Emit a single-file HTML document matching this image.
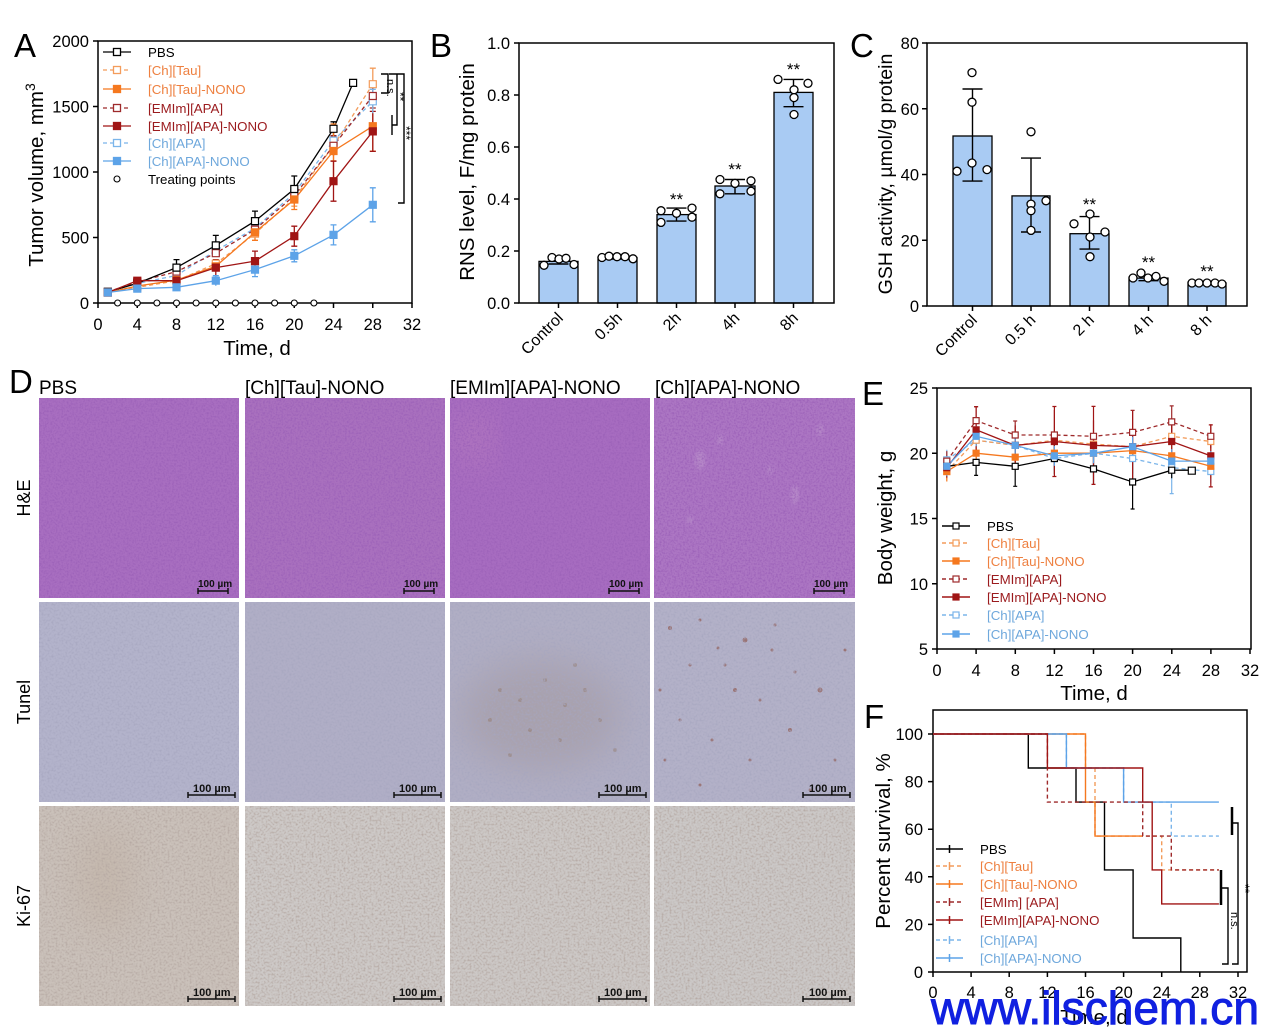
<!DOCTYPE html>
<html><head><meta charset="utf-8"><style>
html,body{margin:0;padding:0;background:#fff;}
svg{display:block;font-family:"Liberation Sans",Arial,sans-serif;}
</style></head><body>
<svg width="1270" height="1033" viewBox="0 0 1270 1033" xmlns="http://www.w3.org/2000/svg">
<defs>
<filter id="nzH" x="0" y="0" width="1" height="1"><feTurbulence type="fractalNoise" baseFrequency="0.55" numOctaves="2" seed="3"/><feColorMatrix type="matrix" values="0 0 0 0 0.33  0 0 0 0 0.12  0 0 0 0 0.48  2.4 0 0 0 -0.98"/></filter>
<filter id="nzT" x="0" y="0" width="1" height="1"><feTurbulence type="fractalNoise" baseFrequency="0.5" numOctaves="2" seed="7"/><feColorMatrix type="matrix" values="0 0 0 0 0.38  0 0 0 0 0.38  0 0 0 0 0.52  2.2 0 0 0 -0.95"/></filter>
<filter id="nzK" x="0" y="0" width="1" height="1"><feTurbulence type="fractalNoise" baseFrequency="0.5" numOctaves="2" seed="11"/><feColorMatrix type="matrix" values="0 0 0 0 0.45  0 0 0 0 0.38  0 0 0 0 0.35  2.2 0 0 0 -0.95"/></filter>
<filter id="bl" x="-50%" y="-50%" width="200%" height="200%"><feGaussianBlur stdDeviation="18"/></filter>
<filter id="bl2" x="-50%" y="-50%" width="200%" height="200%"><feGaussianBlur stdDeviation="1.5"/></filter>
<clipPath id="cT3"><rect x="450" y="602" width="200" height="200"/></clipPath>
<clipPath id="cK1"><rect x="39" y="806" width="200" height="200"/></clipPath>
</defs>
<rect width="1270" height="1033" fill="#fff"/>

<!-- ================= PANEL A ================= -->
<text x="14" y="57" font-size="33">A</text>
<rect x="98" y="41" width="314" height="262" fill="none" stroke="#000" stroke-width="1.5"/>
<path d="M93,303H98M93,237.5H98M93,172H98M93,106.5H98M93,41H98M98,303V308M137.25,303V308M176.5,303V308M215.75,303V308M255,303V308M294.25,303V308M333.5,303V308M372.75,303V308M412,303V308" stroke="#000" stroke-width="1.5"/>
<g font-size="16.5" text-anchor="end">
<text x="89" y="309">0</text><text x="89" y="243.5">500</text><text x="89" y="178">1000</text><text x="89" y="112.5">1500</text><text x="89" y="47">2000</text>
</g>
<g font-size="16.5" text-anchor="middle">
<text x="98" y="330">0</text><text x="137.25" y="330">4</text><text x="176.5" y="330">8</text><text x="215.75" y="330">12</text><text x="255" y="330">16</text><text x="294.25" y="330">20</text><text x="333.5" y="330">24</text><text x="372.75" y="330">28</text><text x="412" y="330">32</text>
</g>
<text x="257" y="355" font-size="20.5" text-anchor="middle">Time, d</text>
<text transform="translate(43,175) rotate(-90)" font-size="20.5" text-anchor="middle">Tumor volume, mm<tspan font-size="14" dy="-8">3</tspan></text>

<g fill="none" stroke-width="1.3">
<polyline stroke="#7BB5EA" stroke-dasharray="4,3" points="107.8,291.9 137.3,283.4 176.5,275.5 215.8,250.6 255,228.3 294.3,193 333.5,140.6 372.8,101.3"/>
<polyline stroke="#F39C5B" stroke-dasharray="4,3" points="107.8,292.5 137.3,287.3 176.5,280.7 215.8,263.7 255,233.6 294.3,198.2 333.5,145.8 372.8,84.2"/>
<polyline stroke="#9E2A2B" stroke-dasharray="4,3" points="107.8,291.9 137.3,282 176.5,271.6 215.8,253.2 255,229.6 294.3,195.6 333.5,145.8 372.8,96"/>
<polyline stroke="#000" points="107.8,291.9 137.3,283.4 176.5,267.6 215.8,245.4 255,221.1 294.3,189 333.5,128.8 353.1,82.9"/>
<polyline stroke="#F5781F" points="107.8,292.5 137.3,286 176.5,280.1 215.8,266.3 255,232.3 294.3,199.5 333.5,151 372.8,126.2"/>
<polyline stroke="#A01515" points="107.8,292.5 137.3,280.7 176.5,280.7 215.8,267.6 255,261.1 294.3,236.2 333.5,181.2 372.8,131.4"/>
<polyline stroke="#5DA3E8" points="107.8,292.5 137.3,288.6 176.5,287.3 215.8,280.7 255,269.6 294.3,255.8 333.5,234.9 372.8,204.8"/>
</g>
<g fill="none" stroke-width="1.3">
<path stroke="#000" d="M137.3,279.4V287.4M134.3,279.4h6M134.3,287.4h6M176.5,259.6V275.6M173.5,259.6h6M173.5,275.6h6M215.8,235.4V255.4M212.8,235.4h6M212.8,255.4h6M255,211.1V231.1M252,211.1h6M252,231.1h6M294.3,176V202M291.3,176h6M291.3,202h6M333.5,121.8V135.8M330.5,121.8h6M330.5,135.8h6"/>
<path stroke="#F39C5B" d="M372.8,68.2V100.2M369.8,68.2h6M369.8,100.2h6M333.5,130.8V160.8M330.5,130.8h6M330.5,160.8h6M294.3,190.2V206.2M291.3,190.2h6M291.3,206.2h6"/>
<path stroke="#9E2A2B" d="M372.8,84V108M369.8,84h6M369.8,108h6M333.5,135.8V155.8M330.5,135.8h6"/>
<path stroke="#F5781F" d="M372.8,101.2V151.2M369.8,101.2h6M369.8,151.2h6M333.5,124V178M330.5,124h6M330.5,178h6M294.3,189.5V209.5M291.3,209.5h6M255,224.3V240.3M252,240.3h6"/>
<path stroke="#A01515" d="M372.8,111.4V151.4M369.8,111.4h6M369.8,151.4h6M333.5,161.2V201.2M330.5,161.2h6M330.5,201.2h6M294.3,226.2V246.2M291.3,226.2h6M291.3,246.2h6M255,251.1V271.1M252,251.1h6M252,271.1h6M215.8,259.6V275.6M212.8,259.6h6"/>
<path stroke="#7BB5EA" d="M372.8,89.3V113.3M369.8,89.3h6"/>
<path stroke="#5DA3E8" d="M372.8,187.8V221.8M369.8,187.8h6M369.8,221.8h6M333.5,224.9V244.9M330.5,224.9h6M330.5,244.9h6M294.3,249.8V261.8M291.3,249.8h6M291.3,261.8h6M255,262.6V276.6M252,262.6h6M252,276.6h6M215.8,275.7V285.7M212.8,275.7h6"/>
</g>
<g stroke-width="1.2">
<path fill="#fff" stroke="#7BB5EA" d="M104.3,288.4h7v7h-7zM133.8,279.9h7v7h-7zM173,272h7v7h-7zM212.3,247.1h7v7h-7zM251.5,224.8h7v7h-7zM290.8,189.5h7v7h-7zM330,137.1h7v7h-7zM369.3,97.8h7v7h-7z"/>
<path fill="#fff" stroke="#F39C5B" d="M104.3,289h7v7h-7zM133.8,283.8h7v7h-7zM173,277.2h7v7h-7zM212.3,260.2h7v7h-7zM251.5,230.1h7v7h-7zM290.8,194.7h7v7h-7zM330,142.3h7v7h-7zM369.3,80.7h7v7h-7z"/>
<path fill="#fff" stroke="#9E2A2B" d="M104.3,288.4h7v7h-7zM133.8,278.5h7v7h-7zM173,268.1h7v7h-7zM212.3,249.7h7v7h-7zM251.5,226.1h7v7h-7zM290.8,192.1h7v7h-7zM330,142.3h7v7h-7zM369.3,92.5h7v7h-7z"/>
<path fill="#fff" stroke="#000" d="M104.3,288.4h7v7h-7zM133.8,279.9h7v7h-7zM173,264.1h7v7h-7zM212.3,241.9h7v7h-7zM251.5,217.6h7v7h-7zM290.8,185.5h7v7h-7zM330,125.3h7v7h-7zM349.6,79.4h7v7h-7z"/>
<path fill="#F5781F" stroke="#F5781F" d="M104.3,289h7v7h-7zM133.8,282.5h7v7h-7zM173,276.6h7v7h-7zM212.3,262.8h7v7h-7zM251.5,228.8h7v7h-7zM290.8,196h7v7h-7zM330,147.5h7v7h-7zM369.3,122.7h7v7h-7z"/>
<path fill="#A01515" stroke="#A01515" d="M104.3,289h7v7h-7zM133.8,277.2h7v7h-7zM173,277.2h7v7h-7zM212.3,264.1h7v7h-7zM251.5,257.6h7v7h-7zM290.8,232.7h7v7h-7zM330,177.7h7v7h-7zM369.3,127.9h7v7h-7z"/>
<path fill="#5DA3E8" stroke="#5DA3E8" d="M104.3,289h7v7h-7zM133.8,285.1h7v7h-7zM173,283.8h7v7h-7zM212.3,277.2h7v7h-7zM251.5,266.1h7v7h-7zM290.8,252.3h7v7h-7zM330,231.4h7v7h-7zM369.3,201.3h7v7h-7z"/>
</g>
<g fill="#fff" stroke="#000" stroke-width="1.1">
<circle cx="117.6" cy="303" r="3"/><circle cx="137.3" cy="303" r="3"/><circle cx="156.9" cy="303" r="3"/><circle cx="176.5" cy="303" r="3"/><circle cx="196.1" cy="303" r="3"/><circle cx="215.8" cy="303" r="3"/><circle cx="235.4" cy="303" r="3"/><circle cx="255" cy="303" r="3"/><circle cx="274.6" cy="303" r="3"/><circle cx="294.3" cy="303" r="3"/><circle cx="313.9" cy="303" r="3"/>
</g>
<path d="M381,74H388V93H381M389,74H397V125H392M392,115V135M397,74H404V203H398" fill="none" stroke="#000" stroke-width="1.4"/>
<text transform="translate(387,79) rotate(90)" font-size="11">n.s.</text>
<text transform="translate(396,92) rotate(90)" font-size="12">**</text>
<text transform="translate(402,126) rotate(90)" font-size="12">***</text>
<g stroke-width="1.3" fill="none">
<path d="M103,52H131" stroke="#000"/><rect x="113.5" y="48.5" width="7" height="7" fill="#fff" stroke="#000"/>
<path d="M103,70H131" stroke="#F39C5B" stroke-dasharray="4,3"/><rect x="113.5" y="66.5" width="7" height="7" fill="#fff" stroke="#F39C5B"/>
<path d="M103,89H131" stroke="#F5781F"/><rect x="113.5" y="85.5" width="7" height="7" fill="#F5781F" stroke="#F5781F"/>
<path d="M103,108H131" stroke="#9E2A2B" stroke-dasharray="4,3"/><rect x="113.5" y="104.5" width="7" height="7" fill="#fff" stroke="#9E2A2B"/>
<path d="M103,126H131" stroke="#A01515"/><rect x="113.5" y="122.5" width="7" height="7" fill="#A01515" stroke="#A01515"/>
<path d="M103,143H131" stroke="#7BB5EA" stroke-dasharray="4,3"/><rect x="113.5" y="139.5" width="7" height="7" fill="#fff" stroke="#7BB5EA"/>
<path d="M103,161H131" stroke="#5DA3E8"/><rect x="113.5" y="157.5" width="7" height="7" fill="#5DA3E8" stroke="#5DA3E8"/>
<circle cx="117" cy="179" r="3" fill="#fff" stroke="#000" stroke-width="1.1"/>
</g>
<g font-size="13.3">
<text x="148" y="57">PBS</text>
<text x="148" y="75" fill="#EE8040">[Ch][Tau]</text>
<text x="148" y="94" fill="#EE8040">[Ch][Tau]-NONO</text>
<text x="148" y="113" fill="#9B1B1E">[EMIm][APA]</text>
<text x="148" y="131" fill="#9B1B1E">[EMIm][APA]-NONO</text>
<text x="148" y="148" fill="#6FA8DC">[Ch][APA]</text>
<text x="148" y="166" fill="#6FA8DC">[Ch][APA]-NONO</text>
<text x="148" y="184">Treating points</text>
</g>

<!-- ================= PANEL B ================= -->
<text x="430" y="57" font-size="33">B</text>
<g fill="#A9CBF3" stroke="#000" stroke-width="1.3">
<rect x="539" y="261.4" width="39" height="41.6"/>
<rect x="598" y="257.5" width="39" height="45.5"/>
<rect x="657" y="214.6" width="39" height="88.4"/>
<rect x="715" y="186" width="40" height="117"/>
<rect x="774" y="92.4" width="39" height="210.6"/>
</g>
<rect x="519" y="43" width="315" height="260" fill="none" stroke="#000" stroke-width="1.5"/>
<path d="M514,303H519M514,251H519M514,199H519M514,147H519M514,95H519M514,43H519M558.5,303V308M617.5,303V308M676.5,303V308M735,303V308M793.5,303V308" stroke="#000" stroke-width="1.5"/>
<path d="M558.5,259V264M548.5,259h20M548.5,264h20M617.5,256V259M607.5,256h20M607.5,259h20M676.5,208.1V221.1M666.5,208.1h20M666.5,221.1h20M735,179.5V193.8M725,179.5h20M725,193.8h20M793.5,79.4V106.7M783.5,79.4h20M783.5,106.7h20" stroke="#000" stroke-width="1.4" fill="none"/>
<g fill="#fff" stroke="#000" stroke-width="1.3">
<circle cx="544" cy="265.3" r="4"/><circle cx="552" cy="257.5" r="4"/><circle cx="559" cy="259" r="4"/><circle cx="566" cy="258.3" r="4"/><circle cx="574" cy="264.5" r="4"/>
<circle cx="602" cy="257.5" r="4"/><circle cx="609" cy="256.2" r="4"/><circle cx="617" cy="256.7" r="4"/><circle cx="625" cy="256.7" r="4"/><circle cx="633" cy="258.8" r="4"/>
<circle cx="661" cy="210.7" r="4"/><circle cx="661" cy="222.4" r="4"/><circle cx="676.5" cy="213.3" r="4"/><circle cx="692" cy="208.1" r="4"/><circle cx="692" cy="217.2" r="4"/>
<circle cx="720" cy="179.5" r="4"/><circle cx="720" cy="193.8" r="4"/><circle cx="735" cy="183.4" r="4"/><circle cx="751" cy="180.8" r="4"/><circle cx="751" cy="191.2" r="4"/>
<circle cx="778" cy="79.4" r="4"/><circle cx="808" cy="83.3" r="4"/><circle cx="794" cy="89.8" r="4"/><circle cx="794" cy="97.6" r="4"/><circle cx="794" cy="114.5" r="4"/>
</g>
<g font-size="17" text-anchor="middle"><text x="676.5" y="205">**</text><text x="735" y="175">**</text><text x="793.5" y="75">**</text></g>
<g font-size="16.5" text-anchor="end">
<text x="510" y="309">0.0</text><text x="510" y="257">0.2</text><text x="510" y="205">0.4</text><text x="510" y="153">0.6</text><text x="510" y="101">0.8</text><text x="510" y="49">1.0</text>
</g>
<g font-size="16" text-anchor="end">
<text transform="translate(564,319) rotate(-45)">Control</text>
<text transform="translate(623,319) rotate(-45)">0.5h</text>
<text transform="translate(682,319) rotate(-45)">2h</text>
<text transform="translate(740.5,319) rotate(-45)">4h</text>
<text transform="translate(799,319) rotate(-45)">8h</text>
</g>
<text transform="translate(474,172) rotate(-90)" font-size="20.5" text-anchor="middle">RNS level, F/mg protein</text>

<!-- ================= PANEL C ================= -->
<text x="850" y="57" font-size="33">C</text>
<g fill="#A9CBF3" stroke="#000" stroke-width="1.3">
<rect x="953" y="136" width="39" height="170"/>
<rect x="1012" y="195.9" width="38" height="110.1"/>
<rect x="1070" y="233.7" width="39" height="72.3"/>
<rect x="1129" y="278.1" width="39" height="27.9"/>
<rect x="1188" y="283" width="38" height="23"/>
</g>
<rect x="927" y="43" width="320" height="263" fill="none" stroke="#000" stroke-width="1.5"/>
<path d="M922,306H927M922,240.25H927M922,174.5H927M922,108.75H927M922,43H927M972.5,306V311M1031,306V311M1089.5,306V311M1148.5,306V311M1207,306V311" stroke="#000" stroke-width="1.5"/>
<path d="M972.5,89V181.1M962.5,89h20M962.5,181.1h20M1031,158.1V232M1021,158.1h20M1021,232h20M1089.5,216.6V249.1M1079.5,216.6h20M1079.5,249.1h20M1148.5,275.4V280.7M1138.5,275.4h20M1138.5,280.7h20M1207,281.4V284.6M1197,281.4h20M1197,284.6h20" stroke="#000" stroke-width="1.4" fill="none"/>
<g fill="#fff" stroke="#000" stroke-width="1.3">
<circle cx="972" cy="72.6" r="4"/><circle cx="972" cy="102.2" r="4"/><circle cx="972" cy="163" r="4"/><circle cx="957" cy="171.2" r="4"/><circle cx="987" cy="169.6" r="4"/>
<circle cx="1031" cy="131.8" r="4"/><circle cx="1031" cy="204.1" r="4"/><circle cx="1031" cy="210.7" r="4"/><circle cx="1031" cy="230.4" r="4"/><circle cx="1046" cy="200.8" r="4"/>
<circle cx="1074" cy="223.8" r="4"/><circle cx="1090" cy="214" r="4"/><circle cx="1090" cy="237" r="4"/><circle cx="1090" cy="256.7" r="4"/><circle cx="1105" cy="232" r="4"/>
<circle cx="1133" cy="278" r="4"/><circle cx="1141" cy="273" r="4"/><circle cx="1148" cy="278" r="4"/><circle cx="1156" cy="276.4" r="4"/><circle cx="1164" cy="281.3" r="4"/>
<circle cx="1192" cy="283" r="4"/><circle cx="1199" cy="283" r="4"/><circle cx="1207" cy="283" r="4"/><circle cx="1215" cy="283" r="4"/><circle cx="1222" cy="284" r="4"/>
</g>
<g font-size="17" text-anchor="middle"><text x="1089.5" y="210">**</text><text x="1148.5" y="268">**</text><text x="1207" y="277">**</text></g>
<g font-size="16.5" text-anchor="end">
<text x="919" y="312">0</text><text x="919" y="246.25">20</text><text x="919" y="180.5">40</text><text x="919" y="114.75">60</text><text x="919" y="49">80</text>
</g>
<g font-size="16" text-anchor="end">
<text transform="translate(978,321) rotate(-45)">Control</text>
<text transform="translate(1036.5,321) rotate(-45)">0.5 h</text>
<text transform="translate(1095,321) rotate(-45)">2 h</text>
<text transform="translate(1154,321) rotate(-45)">4 h</text>
<text transform="translate(1212.5,321) rotate(-45)">8 h</text>
</g>
<text transform="translate(892,174) rotate(-90)" font-size="19.5" text-anchor="middle">GSH activity, µmol/g protein</text>

<!-- ================= PANEL D ================= -->
<text x="9" y="393" font-size="33">D</text>
<g font-size="19">
<text x="39" y="394">PBS</text>
<text x="245" y="394">[Ch][Tau]-NONO</text>
<text x="450" y="394">[EMIm][APA]-NONO</text>
<text x="655" y="394">[Ch][APA]-NONO</text>
</g>
<g font-size="18" text-anchor="middle">
<text transform="translate(30,498) rotate(-90)">H&amp;E</text>
<text transform="translate(30,702) rotate(-90)">Tunel</text>
<text transform="translate(30,906) rotate(-90)">Ki-67</text>
</g>
<!-- H&E row -->
<rect x="39" y="398" width="200" height="200" fill="#A86EC0"/>
<rect x="245" y="398" width="200" height="200" fill="#A970BE"/>
<rect x="450" y="398" width="200" height="200" fill="#A76CC0"/>
<rect x="654" y="398" width="201" height="200" fill="#AC76C3"/>
<ellipse cx="475" cy="440" rx="14" ry="30" fill="#d49ab8" opacity="0.3" filter="url(#bl)"/>
<g fill="#cdb4d6" opacity="0.3" filter="url(#bl2)">
<ellipse cx="700" cy="460" rx="5" ry="10"/><ellipse cx="720" cy="440" rx="3" ry="5"/><ellipse cx="795" cy="495" rx="4" ry="9"/><ellipse cx="770" cy="470" rx="3" ry="4"/><ellipse cx="690" cy="520" rx="3" ry="4"/><ellipse cx="820" cy="430" rx="3" ry="6"/>
</g>
<rect x="39" y="398" width="200" height="200" filter="url(#nzH)"/>
<rect x="245" y="398" width="200" height="200" filter="url(#nzH)"/>
<rect x="450" y="398" width="200" height="200" filter="url(#nzH)"/>
<rect x="654" y="398" width="201" height="200" filter="url(#nzH)"/>
<!-- Tunel row -->
<rect x="39" y="602" width="200" height="200" fill="#B3B3CB"/>
<rect x="245" y="602" width="200" height="200" fill="#B0AEC6"/>
<rect x="450" y="602" width="200" height="200" fill="#B0AEC4"/>
<rect x="654" y="602" width="201" height="200" fill="#B3B1C8"/>
<g clip-path="url(#cT3)">
<ellipse cx="540" cy="715" rx="80" ry="55" fill="#8e7460" opacity="0.22" filter="url(#bl)"/>
<g fill="#8a6a50" opacity="0.35">
<circle cx="500" cy="690" r="2"/><circle cx="520" cy="700" r="2"/><circle cx="545" cy="680" r="2"/><circle cx="565" cy="705" r="2"/><circle cx="585" cy="690" r="2"/><circle cx="530" cy="730" r="2"/><circle cx="560" cy="740" r="2"/><circle cx="600" cy="720" r="2"/><circle cx="490" cy="720" r="2"/><circle cx="575" cy="665" r="2"/><circle cx="510" cy="755" r="2"/><circle cx="615" cy="750" r="2"/>
</g>
</g>
<g fill="#8a4a3c" opacity="0.6">
<circle cx="670" cy="628" r="2"/><circle cx="700" cy="620" r="1.5"/><circle cx="718" cy="648" r="1.5"/><circle cx="745" cy="640" r="2.5"/><circle cx="772" cy="650" r="1.5"/><circle cx="690" cy="665" r="1.5"/><circle cx="735" cy="690" r="2"/><circle cx="760" cy="700" r="1.5"/><circle cx="795" cy="672" r="1.5"/><circle cx="820" cy="690" r="2.5"/><circle cx="680" cy="720" r="1.5"/><circle cx="712" cy="740" r="1.5"/><circle cx="750" cy="760" r="1.5"/><circle cx="790" cy="730" r="2"/><circle cx="835" cy="760" r="1.5"/><circle cx="700" cy="785" r="1.5"/><circle cx="810" cy="790" r="1.5"/><circle cx="665" cy="760" r="1.5"/><circle cx="845" cy="650" r="1.5"/><circle cx="725" cy="665" r="1.5"/><circle cx="775" cy="625" r="1.5"/><circle cx="660" cy="690" r="1.5"/>
</g>
<rect x="39" y="602" width="200" height="200" filter="url(#nzT)"/>
<rect x="245" y="602" width="200" height="200" filter="url(#nzT)"/>
<rect x="450" y="602" width="200" height="200" filter="url(#nzT)"/>
<rect x="654" y="602" width="201" height="200" filter="url(#nzT)"/>
<!-- Ki-67 row -->
<rect x="39" y="806" width="200" height="200" fill="#CAC1BA"/>
<rect x="245" y="806" width="200" height="200" fill="#CDC9C7"/>
<rect x="450" y="806" width="200" height="200" fill="#CCC8C6"/>
<rect x="654" y="806" width="201" height="200" fill="#CBC8C7"/>
<g clip-path="url(#cK1)">
<ellipse cx="105" cy="880" rx="30" ry="55" fill="#a07a55" opacity="0.12" filter="url(#bl)"/>
</g>
<rect x="39" y="806" width="200" height="200" filter="url(#nzK)"/>
<rect x="245" y="806" width="200" height="200" filter="url(#nzK)"/>
<rect x="450" y="806" width="200" height="200" filter="url(#nzK)"/>
<rect x="654" y="806" width="201" height="200" filter="url(#nzK)"/>
<!-- scale bars -->
<g font-size="10" font-weight="bold" fill="#111">
<text x="198" y="587">100 µm</text><text x="404" y="587">100 µm</text><text x="609" y="587">100 µm</text><text x="814" y="587">100 µm</text>
</g>
<path d="M198,591H228M198,588V594M228,588V594M404,591H434M404,588V594M434,588V594M609,591H639M609,588V594M639,588V594M814,591H844M814,588V594M844,588V594" stroke="#111" stroke-width="1.5"/>
<g font-size="11" font-weight="bold" fill="#111">
<text x="193" y="792">100 µm</text><text x="399" y="792">100 µm</text><text x="604" y="792">100 µm</text><text x="809" y="792">100 µm</text>
<text x="193" y="996">100 µm</text><text x="399" y="996">100 µm</text><text x="604" y="996">100 µm</text><text x="809" y="996">100 µm</text>
</g>
<path d="M188,795H235M188,792V798M235,792V798M394,795H441M394,792V798M441,792V798M599,795H646M599,792V798M646,792V798M803,795H850M803,792V798M850,792V798M188,999H235M188,996V1002M235,996V1002M394,999H441M394,996V1002M441,996V1002M599,999H646M599,996V1002M646,996V1002M803,999H850M803,996V1002M850,996V1002" stroke="#111" stroke-width="1.5"/>

<!-- ================= PANEL E ================= -->
<text x="862" y="405" font-size="33">E</text>
<rect x="937" y="388" width="314" height="261" fill="none" stroke="#000" stroke-width="1.5"/>
<path d="M932,388H937M932,453.25H937M932,518.5H937M932,583.75H937M932,649H937M937,649V654M976.1,649V654M1015.3,649V654M1054.4,649V654M1093.5,649V654M1132.6,649V654M1171.8,649V654M1210.9,649V654M1250,649V654" stroke="#000" stroke-width="1.5"/>
<g font-size="16.5" text-anchor="end">
<text x="928" y="394">25</text><text x="928" y="459.25">20</text><text x="928" y="524.5">15</text><text x="928" y="589.75">10</text><text x="928" y="655">5</text>
</g>
<g font-size="16.5" text-anchor="middle">
<text x="937" y="676">0</text><text x="976.1" y="676">4</text><text x="1015.3" y="676">8</text><text x="1054.4" y="676">12</text><text x="1093.5" y="676">16</text><text x="1132.6" y="676">20</text><text x="1171.8" y="676">24</text><text x="1210.9" y="676">28</text><text x="1250" y="676">32</text>
</g>
<text x="1094" y="700" font-size="20.5" text-anchor="middle">Time, d</text>
<text transform="translate(892,518) rotate(-90)" font-size="20.5" text-anchor="middle">Body weight, g</text>
<g fill="none" stroke-width="1.2">
<path stroke="#7BB5EA" d="M946.8,449.8V469.8M976.1,428.2V452.2M1015.2,433.4V457.4M1054.4,446.5V470.5M1093.5,441.2V465.2M1132.6,443.5V473.5M1171.7,441.6V493.6M1169.7,493.6h4M1210.8,459.5V483.5"/>
<path stroke="#F39C5B" d="M946.8,463.5V479.5M976.1,430.2V450.2M1015.2,435.4V455.4M1054.4,430.2V450.2M1093.5,434.1V454.1M1132.6,436.7V456.7M1171.7,426.3V446.3M1210.8,431.5V451.5"/>
<path stroke="#9E2A2B" d="M946.8,451.1V471.1M976.1,406.6V434.6M974.1,406.6h4M1015.2,421V449M1013.2,421h4M1054.4,410V460M1093.5,420.3V452.3M1132.6,410.4V454.4M1130.6,410.4h4M1171.7,405.9V437.9M1169.7,405.9h4M1210.8,424.3V448.3"/>
<path stroke="#000" d="M946.8,456.3V476.3M976.1,449.4V475.4M974.1,475.4h4M1015.2,446.3V486.3M1013.2,486.3h4M1054.4,442.5V474.5M1093.5,452.9V484.9M1132.6,455V509M1130.6,509h4M1171.7,462.2V478.2"/>
<path stroke="#F5781F" d="M946.8,461.5V481.5M976.1,443.2V463.2M1015.2,447.2V467.2M1054.4,443.2V463.2M1093.5,443.2V463.2M1132.6,440.6V460.6M1171.7,445.9V465.9M1210.8,454.3V478.3"/>
<path stroke="#A01515" d="M946.8,457.6V477.6M976.1,406.8V452.8M974.1,406.8h4M1015.2,425.4V465.4M1054.4,406.5V476.5M1052.4,406.5h4M1052.4,476.5h4M1093.5,406.4V484.4M1091.5,406.4h4M1091.5,484.4h4M1132.6,410.7V482.7M1171.7,423.5V459.5M1210.8,424.9V486.9M1208.8,424.9h4M1208.8,486.9h4"/>
<path stroke="#5DA3E8" d="M946.8,456.3V476.3M976.1,426.3V446.3M1015.2,435.4V455.4M1054.4,445.9V465.9M1093.5,443.2V463.2M1132.6,436.7V456.7M1171.7,449.1V473.1M1210.8,451.1V471.1"/>
</g>
<g fill="none" stroke-width="1.3">
<polyline stroke="#7BB5EA" stroke-dasharray="4,3" points="946.8,459.8 976.1,440.2 1015.2,445.4 1054.4,458.5 1093.5,453.2 1132.6,458.5 1171.7,467.6 1210.8,471.5"/>
<polyline stroke="#F39C5B" stroke-dasharray="4,3" points="946.8,471.5 976.1,440.2 1015.2,445.4 1054.4,440.2 1093.5,444.1 1132.6,446.7 1171.7,436.3 1210.8,441.5"/>
<polyline stroke="#9E2A2B" stroke-dasharray="4,3" points="946.8,461.1 976.1,420.6 1015.2,435 1054.4,435 1093.5,436.3 1132.6,432.4 1171.7,421.9 1210.8,436.3"/>
<polyline stroke="#000" points="946.8,466.3 976.1,462.4 1015.2,466.3 1054.4,458.5 1093.5,468.9 1132.6,482 1171.7,470.2 1191.3,470.2"/>
<polyline stroke="#F5781F" points="946.8,471.5 976.1,453.2 1015.2,457.2 1054.4,453.2 1093.5,453.2 1132.6,450.6 1171.7,455.9 1210.8,466.3"/>
<polyline stroke="#A01515" points="946.8,467.6 976.1,429.8 1015.2,445.4 1054.4,441.5 1093.5,445.4 1132.6,446.7 1171.7,441.5 1210.8,455.9"/>
<polyline stroke="#5DA3E8" points="946.8,466.3 976.1,436.3 1015.2,445.4 1054.4,455.9 1093.5,453.2 1132.6,446.7 1171.7,461.1 1210.8,461.1"/>
</g>
<g stroke-width="1.2">
<path fill="#fff" stroke="#7BB5EA" d="M943.8,456.8h6v6h-6zM973.1,437.2h6v6h-6zM1012.2,442.4h6v6h-6zM1051.4,455.5h6v6h-6zM1090.5,450.2h6v6h-6zM1129.6,455.5h6v6h-6zM1168.7,464.6h6v6h-6zM1207.8,468.5h6v6h-6z"/>
<path fill="#fff" stroke="#F39C5B" d="M943.8,468.5h6v6h-6zM973.1,437.2h6v6h-6zM1012.2,442.4h6v6h-6zM1051.4,437.2h6v6h-6zM1090.5,441.1h6v6h-6zM1129.6,443.7h6v6h-6zM1168.7,433.3h6v6h-6zM1207.8,438.5h6v6h-6z"/>
<path fill="#fff" stroke="#9E2A2B" d="M943.8,458.1h6v6h-6zM973.1,417.6h6v6h-6zM1012.2,432h6v6h-6zM1051.4,432h6v6h-6zM1090.5,433.3h6v6h-6zM1129.6,429.4h6v6h-6zM1168.7,418.9h6v6h-6zM1207.8,433.3h6v6h-6z"/>
<path fill="#fff" stroke="#000" d="M943.8,463.3h6v6h-6zM973.1,459.4h6v6h-6zM1012.2,463.3h6v6h-6zM1051.4,455.5h6v6h-6zM1090.5,465.9h6v6h-6zM1129.6,479h6v6h-6zM1168.7,467.2h6v6h-6zM1188.3,467.2h7v7h-7z"/>
<path fill="#F5781F" stroke="#F5781F" d="M943.8,468.5h6v6h-6zM973.1,450.2h6v6h-6zM1012.2,454.2h6v6h-6zM1051.4,450.2h6v6h-6zM1090.5,450.2h6v6h-6zM1129.6,447.6h6v6h-6zM1168.7,452.9h6v6h-6zM1207.8,463.3h6v6h-6z"/>
<path fill="#A01515" stroke="#A01515" d="M943.8,464.6h6v6h-6zM973.1,426.8h6v6h-6zM1012.2,442.4h6v6h-6zM1051.4,438.5h6v6h-6zM1090.5,442.4h6v6h-6zM1129.6,443.7h6v6h-6zM1168.7,438.5h6v6h-6zM1207.8,452.9h6v6h-6z"/>
<path fill="#5DA3E8" stroke="#5DA3E8" d="M943.8,463.3h6v6h-6zM973.1,433.3h6v6h-6zM1012.2,442.4h6v6h-6zM1051.4,452.9h6v6h-6zM1090.5,450.2h6v6h-6zM1129.6,443.7h6v6h-6zM1168.7,458.1h6v6h-6zM1207.8,458.1h6v6h-6z"/>
</g>
<g stroke-width="1.5" fill="none">
<path d="M942,526H970" stroke="#000"/><rect x="953" y="523" width="6" height="6" fill="#fff" stroke="#000" stroke-width="1.2"/>
<path d="M942,543H970" stroke="#F39C5B" stroke-dasharray="4,3"/><rect x="953" y="540" width="6" height="6" fill="#fff" stroke="#F39C5B" stroke-width="1.2"/>
<path d="M942,561H970" stroke="#F5781F"/><rect x="953" y="558" width="6" height="6" fill="#F5781F" stroke="#F5781F" stroke-width="1.2"/>
<path d="M942,579H970" stroke="#9E2A2B" stroke-dasharray="4,3"/><rect x="953" y="576" width="6" height="6" fill="#fff" stroke="#9E2A2B" stroke-width="1.2"/>
<path d="M942,597H970" stroke="#A01515"/><rect x="953" y="594" width="6" height="6" fill="#A01515" stroke="#A01515" stroke-width="1.2"/>
<path d="M942,615H970" stroke="#7BB5EA" stroke-dasharray="4,3"/><rect x="953" y="612" width="6" height="6" fill="#fff" stroke="#7BB5EA" stroke-width="1.2"/>
<path d="M942,634H970" stroke="#5DA3E8"/><rect x="953" y="631" width="6" height="6" fill="#5DA3E8" stroke="#5DA3E8" stroke-width="1.2"/>
</g>
<g font-size="13.3">
<text x="987" y="531">PBS</text>
<text x="987" y="548" fill="#EE8040">[Ch][Tau]</text>
<text x="987" y="566" fill="#EE8040">[Ch][Tau]-NONO</text>
<text x="987" y="584" fill="#9B1B1E">[EMIm][APA]</text>
<text x="987" y="602" fill="#9B1B1E">[EMIm][APA]-NONO</text>
<text x="987" y="620" fill="#6FA8DC">[Ch][APA]</text>
<text x="987" y="639" fill="#6FA8DC">[Ch][APA]-NONO</text>
</g>

<!-- ================= PANEL F ================= -->
<text x="864" y="728" font-size="33">F</text>
<rect x="933" y="710" width="314" height="262" fill="none" stroke="#000" stroke-width="1.5"/>
<path d="M928,972H933M928,924.4H933M928,876.8H933M928,829.2H933M928,781.6H933M928,734H933M933,972V977M971.1,972V977M1009.2,972V977M1047.4,972V977M1085.5,972V977M1123.6,972V977M1161.7,972V977M1199.8,972V977M1238,972V977" stroke="#000" stroke-width="1.5"/>
<g font-size="16.5" text-anchor="end">
<text x="923" y="978">0</text><text x="923" y="930.4">20</text><text x="923" y="882.8">40</text><text x="923" y="835.2">60</text><text x="923" y="787.6">80</text><text x="923" y="740">100</text>
</g>
<g font-size="16.5" text-anchor="middle">
<text x="933" y="998">0</text><text x="971.1" y="998">4</text><text x="1009.2" y="998">8</text><text x="1047.4" y="998">12</text><text x="1085.5" y="998">16</text><text x="1123.6" y="998">20</text><text x="1161.7" y="998">24</text><text x="1199.8" y="998">28</text><text x="1238" y="998">32</text>
</g>
<text x="1094" y="1024" font-size="20.5" text-anchor="middle">Time, d</text>
<text transform="translate(890,841) rotate(-90)" font-size="20.5" text-anchor="middle">Percent survival, %</text>
<g fill="none" stroke-width="1.4">
<path stroke="#000" d="M933,734H1028.3V768H1076V802.1H1104.5V869.9H1133.1V938H1180.8V972"/>
<path stroke="#F39C5B" stroke-dasharray="4,3" d="M933,734H1085.5V768H1095V836.1H1161.7V869.9H1218.9"/>
<path stroke="#F5781F" d="M933,734H1085.5V802.1H1095V836.1H1142.7"/>
<path stroke="#7BB5EA" stroke-dasharray="4,3" d="M933,734H1066.4V768H1123.6V802.1H1171.3V836.1H1218.9"/>
<path stroke="#5DA3E8" d="M933,734H1066.4V768H1123.6V802.1H1218.9"/>
<path stroke="#9E2A2B" stroke-dasharray="4,3" d="M933,734H1047.4V802.1H1142.7V836.1H1171.3V869.9H1218.9"/>
<path stroke="#A01515" d="M933,734H1047.4V768H1142.7V802.1H1152.2V869.9H1161.7V903.9H1218.9"/>
</g>
<path d="M1221,888H1228V964H1222M1232,823H1238V964H1232" fill="none" stroke="#000" stroke-width="1.4"/>
<path d="M1221,870V905M1232,807V835" stroke="#000" stroke-width="2.5"/>
<text transform="translate(1231,912) rotate(90)" font-size="11">n.s.</text>
<text transform="translate(1241,884) rotate(90)" font-size="12">**</text>
<g stroke-width="1.5" fill="none">
<path d="M936,849H963M949.5,845V853" stroke="#000"/>
<path d="M936,866H963" stroke="#F39C5B" stroke-dasharray="4,3"/><path d="M949.5,862V870" stroke="#F39C5B"/>
<path d="M936,884H963M949.5,880V888" stroke="#F5781F"/>
<path d="M936,902H963" stroke="#9E2A2B" stroke-dasharray="4,3"/><path d="M949.5,898V906" stroke="#9E2A2B"/>
<path d="M936,920H963M949.5,916V924" stroke="#A01515"/>
<path d="M936,940H963" stroke="#7BB5EA" stroke-dasharray="4,3"/><path d="M949.5,936V944" stroke="#7BB5EA"/>
<path d="M936,958H963M949.5,954V962" stroke="#5DA3E8"/>
</g>
<g font-size="13.3">
<text x="980" y="854">PBS</text>
<text x="980" y="871" fill="#EE8040">[Ch][Tau]</text>
<text x="980" y="889" fill="#EE8040">[Ch][Tau]-NONO</text>
<text x="980" y="907" fill="#9B1B1E">[EMIm] [APA]</text>
<text x="980" y="925" fill="#9B1B1E">[EMIm][APA]-NONO</text>
<text x="980" y="945" fill="#6FA8DC">[Ch][APA]</text>
<text x="980" y="963" fill="#6FA8DC">[Ch][APA]-NONO</text>
</g>
<text x="931" y="1024" font-size="46" fill="#1020E0" stroke="#1020E0" stroke-width="1" textLength="328" lengthAdjust="spacingAndGlyphs">www.ilschem.cn</text>
</svg>
</body></html>
